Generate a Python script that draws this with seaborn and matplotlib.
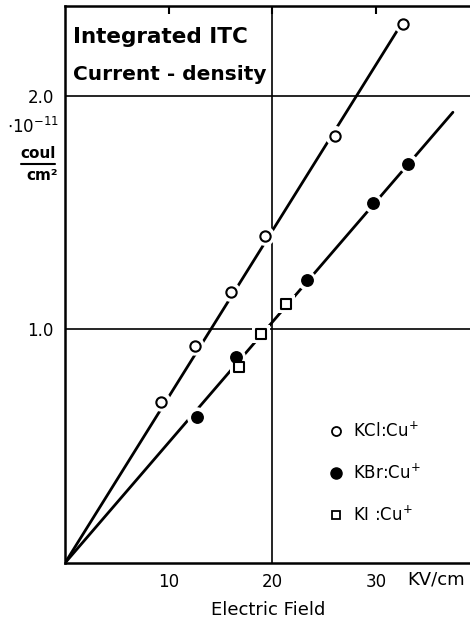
import numpy as np
import pandas as pd
import matplotlib
matplotlib.use("Agg")
import matplotlib.pyplot as plt
import seaborn as sns
from matplotlib.lines import Line2D

# ---- data ----
kcl_x = [9.3, 12.5, 16.0, 19.3, 26.0, 32.6]
kcl_y = [0.69, 0.93, 1.16, 1.40, 1.83, 2.31]
kbr_x = [12.7, 16.5, 23.3, 29.7, 33.1]
kbr_y = [0.625, 0.88, 1.21, 1.54, 1.71]
ki_x = [16.8, 18.9, 21.3]
ki_y = [0.84, 0.98, 1.11]
# straight fit lines through the origin (end points)
kcl_line_x = [0.0, 32.6]
kcl_line_y = [0.0, 2.32]
kbr_line_x = [0.0, 37.4]
kbr_line_y = [0.0, 1.93]

x_ticks = [10, 20, 30]
x_tick_labels = ["10", "20", "30"]
y_ticks = [1.0, 2.0]
y_tick_labels = ["1.0", "2.0"]
grid_x = [20]
grid_y = [1.0, 2.0]
legend_labels = ["KCl:Cu$^{+}$", "KBr:Cu$^{+}$", "KI :Cu$^{+}$"]

sns.set_style("white")
plt.rcParams['font.family'] = ['DejaVu Sans']
plt.rcParams['text.color'] = 'black'
plt.rcParams['axes.labelcolor'] = 'black'
plt.rcParams['xtick.color'] = 'black'
plt.rcParams['ytick.color'] = 'black'

W, H = 470, 626
fig = plt.figure(figsize=(W / 100, H / 100), dpi=100)
ax = fig.add_axes([65 / W, 1 - 563 / H, 1 - 65 / W + 0.01, (563 - 6) / H])

ax.set_xlim(0, 39.5)
ax.set_ylim(0, 2.385)

# grid lines
for gx in grid_x:
    ax.axvline(gx, color="black", lw=1.2, zorder=1)
for gy in grid_y:
    ax.axhline(gy, color="black", lw=1.2, zorder=1)

# fit lines
lines_df = pd.concat([
    pd.DataFrame({"x": kcl_line_x, "y": kcl_line_y, "s": "KCl"}),
    pd.DataFrame({"x": kbr_line_x, "y": kbr_line_y, "s": "KBr"}),
])
sns.lineplot(data=lines_df, x="x", y="y", units="s", estimator=None,
             color="black", lw=2.0, ax=ax, zorder=2, sort=False)

# white halos to cut the lines around markers
for xs, ys, mk, s in [(kcl_x, kcl_y, "o", 200), (kbr_x, kbr_y, "o", 200), (ki_x, ki_y, "s", 170)]:
    sns.scatterplot(x=xs, y=ys, marker=mk, s=s, color="white", edgecolor="none",
                    linewidth=0, ax=ax, zorder=3)

sns.scatterplot(x=kcl_x, y=kcl_y, marker="o", s=55, facecolor="white",
                edgecolor="black", linewidth=1.5, ax=ax, zorder=4)
sns.scatterplot(x=kbr_x, y=kbr_y, marker="o", s=68, color="black",
                edgecolor="black", linewidth=1, ax=ax, zorder=4)
sns.scatterplot(x=ki_x, y=ki_y, marker="s", s=42, facecolor="white",
                edgecolor="black", linewidth=1.5, ax=ax, zorder=4)

# spines / ticks
for sp in ["left", "bottom", "top"]:
    ax.spines[sp].set_visible(True)
    ax.spines[sp].set_color("black")
    ax.spines[sp].set_linewidth(1.8)
ax.spines["right"].set_visible(False)

ax.set_xticks(x_ticks)
ax.set_xticklabels(x_tick_labels)
ax.set_yticks(y_ticks)
ax.set_yticklabels(y_tick_labels)
ax.tick_params(axis="x", direction="in", length=6, width=1.5, top=True,
               labeltop=False, pad=7, labelsize=12, colors="black")
ax.tick_params(axis="y", direction="in", length=0, pad=8, labelsize=12, colors="black")
ax.set_xlabel("")
ax.set_ylabel("")

# legend
handles = [
    Line2D([], [], marker="o", ls="none", ms=6.5, mfc="white", mec="black", mew=1.3),
    Line2D([], [], marker="o", ls="none", ms=8, mfc="black", mec="black"),
    Line2D([], [], marker="s", ls="none", ms=5.5, mfc="white", mec="black", mew=1.3),
]
leg = ax.legend(handles, legend_labels, loc="upper left",
                bbox_to_anchor=((318 - 65) / (W - 65), 1 - (415 - 6) / (563 - 6)),
                frameon=False, fontsize=12, labelspacing=1.35, handletextpad=0.5,
                handlelength=1.0, borderaxespad=0)

# texts
def fx(px):
    return px / W

def fy(py):
    return 1 - py / H

fig.text(fx(73), fy(37), "Integrated ITC", fontsize=15.5, fontweight="bold", va="center", ha="left")
fig.text(fx(73), fy(75), "Current - density", fontsize=14.5, fontweight="bold", va="center", ha="left")
fig.text(fx(59), fy(127), r"$\cdot\mathregular{10^{-11}}$", fontsize=12, va="center", ha="right")
fig.text(fx(38), fy(154), "coul", fontsize=11, va="center", ha="center", fontweight="bold")
fig.add_artist(Line2D([fx(21), fx(55)], [fy(164), fy(164)], color="black", lw=1.5))
fig.text(fx(42), fy(176), "cm²", fontsize=11, va="center", ha="center", fontweight="bold")
fig.text(fx(436), fy(579), "KV/cm", fontsize=13, va="center", ha="center")
fig.text(fx(268), fy(610), "Electric Field", fontsize=13, va="center", ha="center")

fig.savefig("out.png", dpi=100)
